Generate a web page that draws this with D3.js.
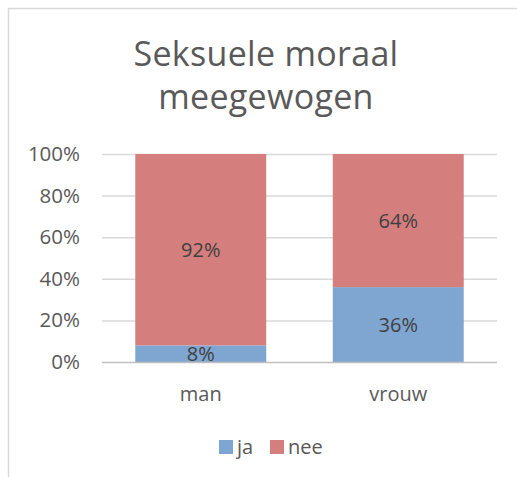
<!DOCTYPE html>
<html>
<head>
<meta charset="utf-8">
<script src="https://cdn.jsdelivr.net/npm/d3@7"></script>
<style>
  body { margin: 0; background: #fff; }
  text { font-family: "Open Sans", sans-serif; fill: #595959; }
</style>
</head>
<body>
<div class="chart"></div>
<script>
// data
var categories = ["man", "vrouw"];
var series = ["ja", "nee"];
var jaValues = [8, 36];
var neeValues = [92, 64];
var tickValues = [0, 20, 40, 60, 80, 100];
var titleLines = ["Seksuele moraal", "meegewogen"];

var width = 517;
var height = 477;

var jaColor = '#7fa6d0'
var neeColor = '#d47e7e'

var svg = d3.select(".chart")
    .append("svg")
    .attr("width", width)
    .attr("height", height);

// chart frame (cropped at right and bottom)
svg.append("rect")
    .attr("x", 8.5)
    .attr("y", 8.5)
    .attr("width", 700)
    .attr("height", 700)
    .style("fill", "none")
    .style("stroke", "#d9d9d9")
    .style("stroke-width", 1.5);

// title
svg.append("g")
    .selectAll("text")
    .data(titleLines)
    .enter()
    .append("text")
    .attr("x", 266)
    .attr("y", function (d, i) { return 66 + i * 43; })
    .attr("text-anchor", "middle")
    .style("font-size", "34px")
    .style("letter-spacing", "0.3px")
    .text(function (d) { return d; });

var x = d3.scaleBand()
    .domain(categories)
    .range([102, 497])
    .paddingInner(0.337)
    .paddingOuter(0.1685);

var y = d3.scaleLinear()
    .domain([0, 100])
    .range([362, 154]);

// gridlines
svg.append("g")
    .selectAll("line")
    .data(tickValues.slice(1))
    .enter()
    .append("line")
    .attr("x1", 102)
    .attr("x2", 497)
    .attr("y1", function (d) { return y(d) + 0.5; })
    .attr("y2", function (d) { return y(d) + 0.5; })
    .style("stroke", "#d9d9d9")
    .style("stroke-width", 1.5);

// y axis labels
var yAxis = d3.axisLeft(y)
    .tickValues(tickValues)
    .tickSize(0)
    .tickPadding(0)
    .tickFormat(function (d) { return d + "%"; });

var gy = svg.append("g")
    .attr("transform", "translate(80,0)")
    .call(yAxis);
gy.select(".domain").remove();
gy.selectAll("text")
    .style("font-size", "20.5px")
    .style("font-family", "'Open Sans', sans-serif")
    .style("fill", "#595959");

// stacked bars
var rows = categories.map(function (c, i) {
    return { cat: c, ja: jaValues[i], nee: neeValues[i] };
});
var stack = d3.stack().keys(series)(rows);
var colors = { ja: jaColor, nee: neeColor };

var layers = svg.selectAll(".layer")
    .data(stack)
    .enter()
    .append("g")
    .attr("class", "layer")
    .style("fill", function (d) { return colors[d.key]; });

layers.selectAll("rect")
    .data(function (d) { return d; })
    .enter()
    .append("rect")
    .attr("x", function (d) { return x(d.data.cat); })
    .attr("width", x.bandwidth())
    .attr("y", function (d) { return y(d[1]); })
    .attr("height", function (d) { return y(d[0]) - y(d[1]); });

layers.selectAll("text")
    .data(function (d) { return d; })
    .enter()
    .append("text")
    .attr("x", function (d) { return x(d.data.cat) + x.bandwidth() / 2; })
    .attr("y", function (d) { return y((d[0] + d[1]) / 2); })
    .attr("dy", "0.36em")
    .attr("text-anchor", "middle")
    .style("font-size", "20px")
    .style("fill", "#404040")
    .text(function (d) { return (d[1] - d[0]) + "%"; });

// x axis
var xAxis = d3.axisBottom(x).tickSize(0).tickPadding(0);
var gx = svg.append("g")
    .attr("transform", "translate(0,362)")
    .call(xAxis);
gx.select(".domain")
    .attr("d", "M102,0.5H497")
    .style("stroke", "#bfbfbf")
    .style("stroke-width", 1.5);
gx.selectAll("text")
    .attr("y", 39)
    .attr("dy", 0)
    .style("font-size", "20px")
    .style("font-family", "'Open Sans', sans-serif")
    .style("fill", "#595959");

// legend
var legend = svg.append("g")
    .selectAll("g")
    .data(series)
    .enter()
    .append("g")
    .attr("transform", function (d, i) { return "translate(" + [219, 270][i] + ",440)"; });

legend.append("rect")
    .attr("width", 14)
    .attr("height", 14)
    .style("fill", function (d) { return colors[d]; });

legend.append("text")
    .attr("x", 18)
    .attr("y", 14)
    .style("font-size", "20px")
    .text(function (d) { return d; });
</script>
</body>
</html>
